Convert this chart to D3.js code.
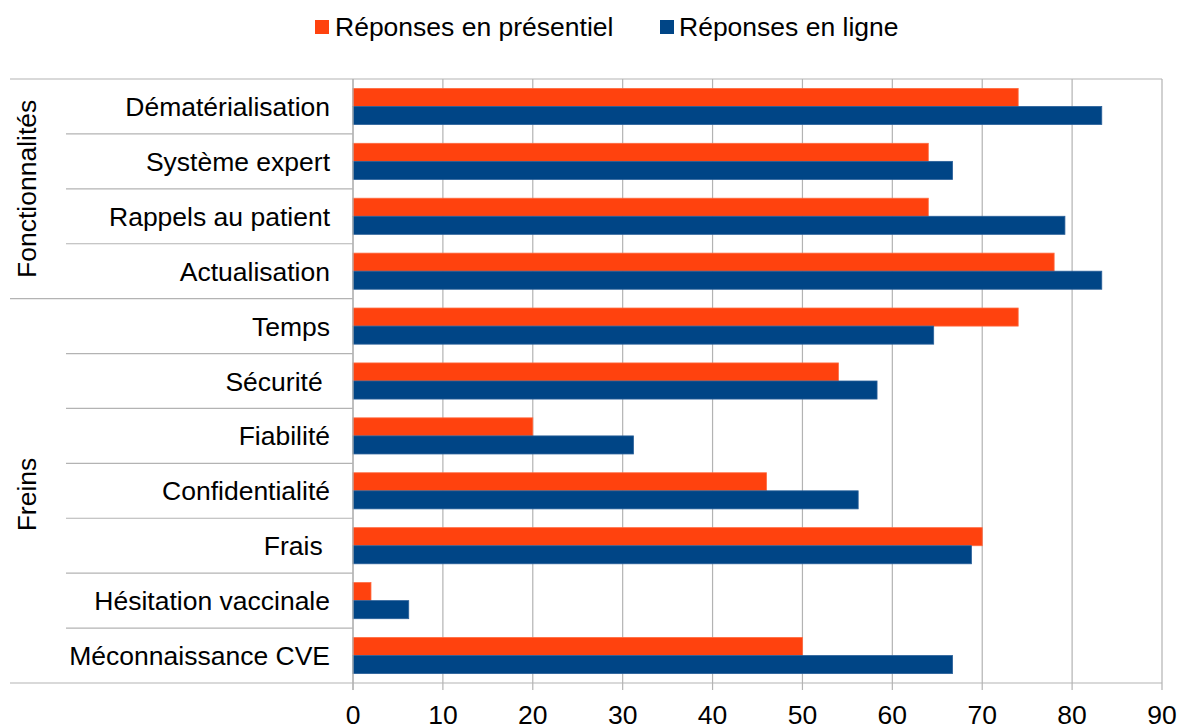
<!DOCTYPE html>
<html>
<head>
<meta charset="utf-8">
<script src="https://cdn.jsdelivr.net/npm/d3@7"></script>
<style>
  body { margin: 0; background: #fff; }
  svg { font-family: "Liberation Sans", Arial, sans-serif; }
</style>
</head>
<body>
<div id="chart"></div>
<script>
const categories = ["Dématérialisation", "Système expert", "Rappels au patient", "Actualisation",
  "Temps", "Sécurité ", "Fiabilité", "Confidentialité", "Frais ", "Hésitation vaccinale", "Méconnaissance CVE"];
const presentiel = [74, 64, 64, 78, 74, 54, 20, 46, 70, 2, 50];
const enLigne = [83.3, 66.7, 79.2, 83.3, 64.6, 58.3, 31.2, 56.2, 68.8, 6.2, 66.7];
const groups = [
  { name: "Fonctionnalités", from: 0, to: 3 },
  { name: "Freins ", from: 4, to: 10 }
];
const seriesNames = ["Réponses en présentiel", "Réponses en ligne"];
const xTicks = [0, 10, 20, 30, 40, 50, 60, 70, 80, 90];

const W = 1180, H = 727;
const plotLeft = 353, plotRight = 1162, plotTop = 79, plotBottom = 683;
const fontSize = 26.5;

const svg = d3.select("#chart").append("svg")
  .attr("width", W).attr("height", H);

const color = d3.scaleOrdinal().domain(seriesNames).range(["#ff420e", "#004586"]);
const stroke = d3.scaleOrdinal().domain(seriesNames).range(["#ff6a40", "#2a6099"]);

const x = d3.scaleLinear().domain([0, 90]).range([plotLeft, plotRight]);
const y0 = d3.scaleBand().domain(categories).range([plotTop, plotBottom]).paddingInner(0).paddingOuter(0);
const y1 = d3.scaleBand().domain(seriesNames).range([0, y0.bandwidth()]).paddingOuter(0.52).paddingInner(0);

// gridlines
svg.append("g").selectAll("line")
  .data(xTicks)
  .join("line")
  .attr("x1", d => x(d)).attr("x2", d => x(d))
  .attr("y1", plotTop).attr("y2", plotBottom + 7)
  .attr("stroke", "#b3b3b3").attr("stroke-width", 1.2);

// top border line
svg.append("line")
  .attr("x1", 10).attr("x2", plotRight).attr("y1", plotTop).attr("y2", plotTop)
  .attr("stroke", "#b3b3b3").attr("stroke-width", 1.2);

// category separators
const seps = d3.range(1, categories.length + 1);
svg.append("g").selectAll("line")
  .data(seps)
  .join("line")
  .attr("x1", d => (d === categories.length || d === 4) ? 10 : 66)
  .attr("x2", d => d === categories.length ? plotRight : plotLeft)
  .attr("y1", d => plotTop + d * y0.step())
  .attr("y2", d => plotTop + d * y0.step())
  .attr("stroke", "#b3b3b3").attr("stroke-width", 1.2);

// bars
const rows = categories.map((c, i) => ({ cat: c, vals: [presentiel[i], enLigne[i]] }));
const row = svg.append("g").selectAll("g")
  .data(rows)
  .join("g")
  .attr("transform", d => `translate(0,${y0(d.cat)})`);

row.selectAll("rect")
  .data(d => seriesNames.map((s, k) => ({ s, v: d.vals[k] })))
  .join("rect")
  .attr("x", x(0))
  .attr("y", d => y1(d.s))
  .attr("width", d => x(d.v) - x(0))
  .attr("height", y1.bandwidth())
  .attr("fill", d => color(d.s))
  .attr("stroke", d => stroke(d.s))
  .attr("stroke-width", 0.8);

// left axis line
svg.append("line")
  .attr("x1", plotLeft).attr("x2", plotLeft).attr("y1", plotTop).attr("y2", plotBottom + 7)
  .attr("stroke", "#b3b3b3").attr("stroke-width", 1.2);

// category labels
svg.append("g").selectAll("text")
  .data(categories)
  .join("text")
  .attr("x", 330)
  .attr("y", d => y0(d) + y0.bandwidth() / 2 + 9.5)
  .attr("text-anchor", "end")
  .attr("font-size", fontSize)
  .attr("fill", "#000")
  .style("white-space", "pre")
  .text(d => d);

// group labels
svg.append("g").selectAll("text")
  .data(groups)
  .join("text")
  .attr("transform", d => {
    const cy = (plotTop + d.from * y0.step() + plotTop + (d.to + 1) * y0.step()) / 2;
    return `translate(36,${cy}) rotate(-90)`;
  })
  .attr("text-anchor", "middle")
  .attr("font-size", fontSize)
  .style("white-space", "pre")
  .text(d => d.name);

// x tick labels
svg.append("g").selectAll("text")
  .data(xTicks)
  .join("text")
  .attr("x", d => x(d))
  .attr("y", 724)
  .attr("text-anchor", "middle")
  .attr("font-size", fontSize)
  .text(d => d);

// legend
const legend = svg.append("g");
const legendPos = [{ sx: 315, tx: 335 }, { sx: 660, tx: 679 }];
seriesNames.forEach((s, i) => {
  legend.append("rect")
    .attr("x", legendPos[i].sx).attr("y", 20)
    .attr("width", 14).attr("height", 14)
    .attr("fill", color(s));
  legend.append("text")
    .attr("x", legendPos[i].tx).attr("y", 36)
    .attr("font-size", fontSize)
    .text(s);
});
</script>
</body>
</html>
